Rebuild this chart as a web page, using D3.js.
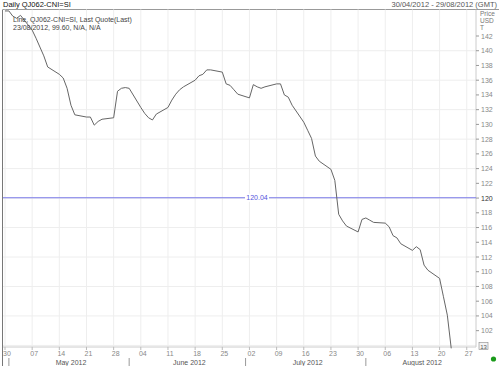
<html>
<head>
<meta charset="UTF-8">
<script src="https://d3js.org/d3.v7.min.js"></script>
<style>
  body { margin: 0; background: #fff; }
  text { font-family: "Liberation Sans", Arial, sans-serif; }
</style>
</head>
<body>
<svg id="chart" width="499" height="366"></svg>
<script>
// daily closes
const dates = ["2012-04-30","2012-05-01","2012-05-02","2012-05-03","2012-05-04",
  "2012-05-07","2012-05-08","2012-05-09","2012-05-10","2012-05-11",
  "2012-05-14","2012-05-15","2012-05-16","2012-05-17","2012-05-18",
  "2012-05-21","2012-05-22","2012-05-23","2012-05-24","2012-05-25",
  "2012-05-28","2012-05-29","2012-05-30","2012-05-31","2012-06-01",
  "2012-06-04","2012-06-05","2012-06-06","2012-06-07","2012-06-08",
  "2012-06-11","2012-06-12","2012-06-13","2012-06-14","2012-06-15",
  "2012-06-18","2012-06-19","2012-06-20","2012-06-21","2012-06-22",
  "2012-06-25","2012-06-26","2012-06-27","2012-06-28","2012-06-29",
  "2012-07-02","2012-07-03","2012-07-04","2012-07-05","2012-07-06",
  "2012-07-09","2012-07-10","2012-07-11","2012-07-12","2012-07-13",
  "2012-07-16","2012-07-17","2012-07-18","2012-07-19","2012-07-20",
  "2012-07-23","2012-07-24","2012-07-25","2012-07-26","2012-07-27",
  "2012-07-30","2012-07-31","2012-08-01","2012-08-02","2012-08-03",
  "2012-08-06","2012-08-07","2012-08-08","2012-08-09","2012-08-10",
  "2012-08-13","2012-08-14","2012-08-15","2012-08-16","2012-08-17",
  "2012-08-20","2012-08-21","2012-08-22","2012-08-23"];
const prices = [145.4,145.4,144.7,144.4,144.8,
  142.8,141.7,140.5,139.3,137.8,
  136.8,136.3,134.9,132.6,131.3,
  131.0,131.0,129.9,130.4,130.7,
  130.9,134.5,134.9,135.0,134.9,
  132.3,131.5,130.9,130.6,131.4,
  132.3,133.3,134.1,134.7,135.1,
  136.0,136.6,136.8,137.4,137.4,
  137.1,135.5,135.3,134.7,134.1,
  133.6,135.4,135.1,134.9,135.1,
  135.5,135.5,134.0,133.7,132.6,
  130.3,129.2,128.1,125.7,125.0,
  123.9,122.4,117.8,116.9,116.2,
  115.4,117.1,117.3,117.0,116.7,
  116.6,116.1,114.9,114.6,113.8,
  112.9,113.4,113.0,110.9,110.2,
  109.1,106.6,104.1,99.6];
const refLevel = 120.04;
const yTicks = d3.range(102, 143, 2);
const yGrid = d3.range(100, 142, 4);
const months = ["2012-05","2012-06","2012-07","2012-08"];

const parse = d3.timeParse("%Y-%m-%d");
const data = dates.map((d, i) => ({ date: parse(d), price: prices[i] }));

const svg = d3.select("svg#chart");
const pLeft = 3, pRight = 476, pTop = 9.5, pBottom = 347;

const x = d3.scaleTime()
  .domain([parse("2012-04-30"), parse("2012-08-29")])
  .range([5, 474.5]);
const y = d3.scaleLinear().domain([100, 142]).range([345.4, 36]);

// header
svg.append("text").attr("x", 3).attr("y", 7).attr("font-size", 7.5)
  .attr("fill", "#111").text("Daily QJ062-CNI=SI");
svg.append("text").attr("x", 497).attr("y", 7).attr("font-size", 7.5)
  .attr("text-anchor", "end").attr("fill", "#555").text("30/04/2012 - 29/08/2012 (GMT)");
svg.append("line").attr("x1", pLeft).attr("x2", 499).attr("y1", pTop).attr("y2", pTop)
  .attr("stroke", "#999");

// grid
const weeks = d3.timeMonday.range(parse("2012-04-30"), parse("2012-08-30"));
svg.append("g").selectAll("line").data(weeks).join("line")
  .attr("x1", d => x(d)).attr("x2", d => x(d)).attr("y1", pTop).attr("y2", pBottom)
  .attr("stroke", "#eeeeee");
svg.append("g").selectAll("line").data(yGrid).join("line")
  .attr("x1", pLeft).attr("x2", pRight).attr("y1", d => y(d)).attr("y2", d => y(d))
  .attr("stroke", "#eeeeee");

// frame
svg.append("line").attr("x1", 2.5).attr("x2", 2.5).attr("y1", pTop).attr("y2", 366)
  .attr("stroke", "#777");
svg.append("line").attr("x1", pRight).attr("x2", pRight).attr("y1", pTop).attr("y2", pBottom)
  .attr("stroke", "#ccc");
svg.append("line").attr("x1", pLeft).attr("x2", pRight).attr("y1", pBottom).attr("y2", pBottom)
  .attr("stroke", "#ccc");

// right axis
const yAxis = svg.append("g");
yAxis.selectAll("line").data(yTicks).join("line")
  .attr("x1", pRight).attr("x2", pRight + 3).attr("y1", d => y(d)).attr("y2", d => y(d))
  .attr("stroke", "#999");
yAxis.selectAll("text").data(yTicks).join("text")
  .attr("x", pRight + 5).attr("y", d => y(d) + 2.5).attr("font-size", 7)
  .attr("fill", d => d === 120 ? "#333" : "#888").text(d => d);
["Price", "USD", "T"].forEach((t, i) => {
  svg.append("text").attr("x", 480).attr("y", 15.5 + i * 7.2).attr("font-size", 6.5)
    .attr("fill", "#777").text(t);
});

// bottom axis
const xAxis = svg.append("g");
xAxis.selectAll("line").data(weeks).join("line")
  .attr("x1", d => x(d)).attr("x2", d => x(d)).attr("y1", pBottom).attr("y2", pBottom + 3)
  .attr("stroke", "#bbb");
xAxis.selectAll("text").data(weeks).join("text")
  .attr("x", d => x(d) + 2).attr("y", 356).attr("font-size", 7)
  .attr("text-anchor", "middle").attr("fill", "#888").text(d3.timeFormat("%d"));
const monthStarts = months.map(m => d3.timeParse("%Y-%m")(m));
xAxis.selectAll("line.sep").data(monthStarts).join("line").attr("class", "sep")
  .attr("x1", d => x(d)).attr("x2", d => x(d)).attr("y1", 358).attr("y2", 366)
  .attr("stroke", "#999");
xAxis.selectAll("text.month").data(monthStarts).join("text").attr("class", "month")
  .attr("x", d => {
    const end = d3.min([d3.timeMonth.offset(d, 1), x.domain()[1]]);
    return (x(d) + x(end)) / 2 + 2;
  })
  .attr("y", 364.5).attr("font-size", 7).attr("text-anchor", "middle")
  .attr("fill", "#555").text(d3.timeFormat("%B %Y"));

// reference line
svg.append("line").attr("x1", pLeft).attr("x2", pRight)
  .attr("y1", y(refLevel)).attr("y2", y(refLevel)).attr("stroke", "#7777e8");
svg.append("rect").attr("x", 245).attr("y", y(refLevel) - 4).attr("width", 24).attr("height", 8)
  .attr("fill", "#fff");
svg.append("text").attr("x", 257).attr("y", y(refLevel) + 2.5).attr("font-size", 7)
  .attr("text-anchor", "middle").attr("fill", "#5555dd").text(refLevel.toFixed(2));

// price line
const line = d3.line().x(d => x(d.date)).y(d => y(d.price));
svg.append("path").datum(data).attr("d", line)
  .attr("fill", "none").attr("stroke", "#666").attr("stroke-width", 1);

// legend
svg.append("text").attr("x", 13).attr("y", 22).attr("font-size", 7)
  .attr("fill", "#444").text("Line, QJ062-CNI=SI, Last Quote(Last)");
const last = data[data.length - 1];
svg.append("text").attr("x", 13).attr("y", 30).attr("font-size", 7)
  .attr("fill", "#444")
  .text(d3.timeFormat("%d/%m/%Y")(last.date) + ", " + last.price.toFixed(2) + ", N/A, N/A");

// last value marker box and status dot
svg.append("rect").attr("x", 479).attr("y", 342.5).attr("width", 9).attr("height", 7)
  .attr("fill", "#f4f4f4").attr("stroke", "#888").attr("stroke-width", 0.6);
svg.append("text").attr("x", 483.5).attr("y", 348.5).attr("font-size", 6)
  .attr("text-anchor", "middle").attr("fill", "#555").text("13");
svg.append("circle").attr("cx", 493.5).attr("cy", 359).attr("r", 2.6).attr("fill", "#1a9a1a");
</script>
</body>
</html>
